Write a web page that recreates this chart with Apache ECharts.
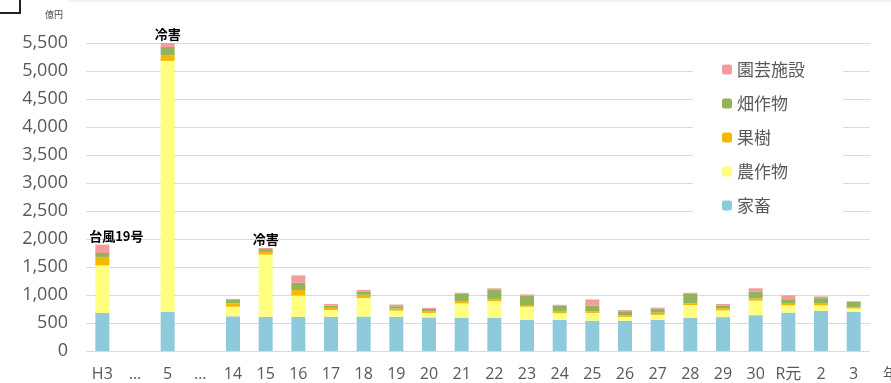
<!DOCTYPE html>
<html><head><meta charset="utf-8">
<script src="https://cdn.jsdelivr.net/npm/echarts@6/dist/echarts.min.js"></script>
<style>html,body{margin:0;padding:0;background:#fff}#c{width:891px;height:383px}</style>
</head><body><div id="c"></div>
<script>
const categories = ['H3','…','5','…','14','15','16','17','18','19','20','21','22','23','24','25','26','27','28','29','30','R元','2','3'];
const livestock  = [680,null,700,null,620,610,610,610,615,610,600,590,590,560,555,540,540,555,590,605,640,685,715,700];
const crops      = [850,null,4480,null,170,1110,380,120,330,110,80,260,300,230,120,140,70,90,230,120,260,130,100,60];
const fruit      = [150,null,100,null,60,50,100,40,60,40,30,40,40,30,40,30,30,40,30,40,40,30,40,20];
const fieldCrops = [70,null,150,null,60,50,130,40,60,40,40,130,170,170,90,100,70,70,170,50,120,80,90,100];
const greenhouse = [150,null,70,null,20,20,130,30,25,30,20,20,20,20,20,110,20,20,20,25,60,70,30,10];
const annotations = {0:'台風19号', 2:'冷害', 5:'冷害'};
const yTicks = [0,500,1000,1500,2000,2500,3000,3500,4000,4500,5000,5500];

const font = '"Open Sans","Noto Sans CJK JP",sans-serif';
const chart = echarts.init(document.getElementById('c'));
const topData = greenhouse.map((v,i)=> annotations[i] ? {
  value: v,
  label: {show:true, position:'top', formatter: annotations[i], color:'#000', fontWeight:'bold', fontSize:13,
          fontFamily:'"Noto Sans CJK JP",sans-serif', offset: i===0 ? [14,2] : [0,0], distance: i===0?4:2}
} : v);
const mk = (name, data, color) => ({name, type:'bar', stack:'t', data, barWidth:14, itemStyle:{color}, emphasis:{disabled:true}});
chart.setOption({
  animation:false,
  textStyle:{fontFamily:font},
  grid:{left:86, right:21, top:43, bottom:32, outerBoundsMode:'none', containLabel:false},
  legend:{
    data:['園芸施設','畑作物','果樹','農作物','家畜'],
    orient:'vertical', left:693, top:50, itemWidth:10, itemHeight:10, itemGap:17,
    backgroundColor:'#fff', padding:[11,38,12,29],
    textStyle:{fontSize:17, color:'#595959', fontFamily:'"Noto Sans CJK JP",sans-serif'}
  },
  xAxis:{type:'category', data:categories,
    axisLine:{show:false}, axisTick:{show:false},
    axisLabel:{fontSize:16, color:'#595959', margin:15, interval:0},
    name:'年', nameLocation:'end', nameGap:13,
    nameTextStyle:{fontSize:15, color:'#595959', verticalAlign:'top', padding:[15,0,0,0], fontFamily:'"Noto Sans CJK JP",sans-serif'}
  },
  yAxis:{type:'value', min:yTicks[0], max:yTicks[yTicks.length-1], interval:500,
    axisLabel:{fontSize:18, color:'#595959', margin:18, formatter:v=>v.toLocaleString('en-US')},
    splitLine:{lineStyle:{color:'#d9d9d9', width:1}}
  },
  graphic:[
    {type:'polyline', shape:{points:[[0,13],[20,13],[20,0]]}, style:{stroke:'#222', lineWidth:2, fill:null}},
    {type:'line', shape:{x1:68,y1:1,x2:891,y2:1}, style:{stroke:'#e6e6e6', lineWidth:1}},
    {type:'text', left:45, top:10, style:{text:'億円', fontSize:9, fill:'#444', fontFamily:'"Noto Sans CJK JP",sans-serif'}}
  ],
  series:[
    mk('家畜', livestock, '#8FCADC'),
    mk('農作物', crops, '#FFFF80'),
    mk('果樹', fruit, '#F5B800'),
    mk('畑作物', fieldCrops, '#92B35A'),
    mk('園芸施設', topData, '#F29C9C')
  ]
});
</script></body></html>
